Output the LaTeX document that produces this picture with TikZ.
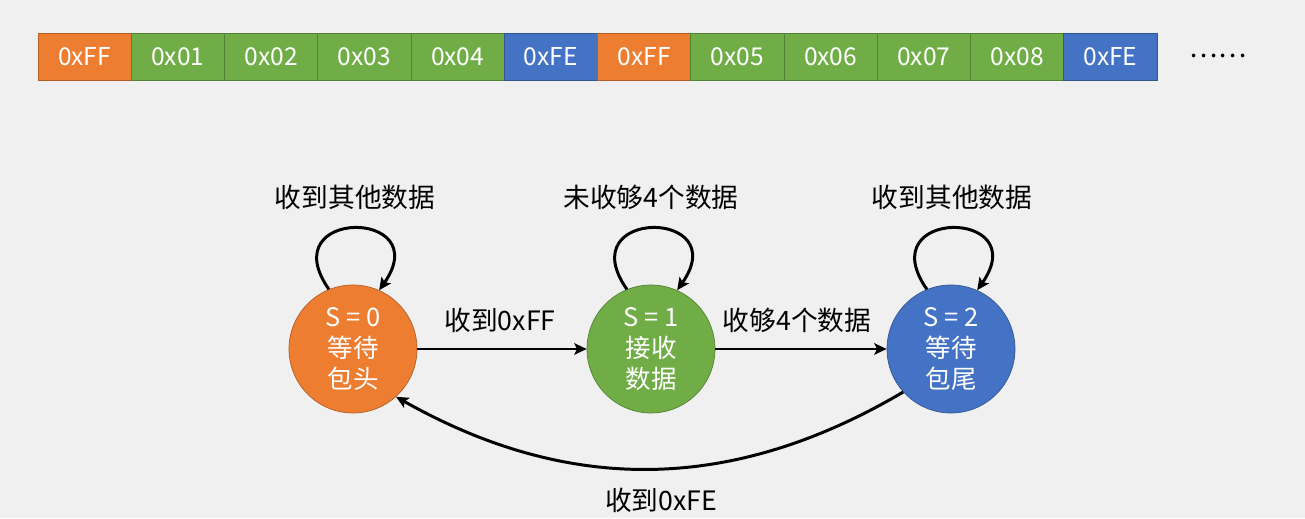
\documentclass[tikz,border=0pt]{standalone}
\usepackage{fontspec}
\setmainfont{Noto Sans CJK SC}
\usetikzlibrary{arrows.meta}
\definecolor{bgc}{HTML}{F0F0F0}
\definecolor{por}{HTML}{ED7D31}
\definecolor{pgr}{HTML}{70AD47}
\definecolor{pbl}{HTML}{4472C4}

\begin{document}
\begin{tikzpicture}[x=0.02cm, y=0.02cm, every node/.style={font=\fontsize{15.2}{17}\selectfont}, cell/.style={draw, minimum width=1.865cm, minimum height=0.94cm, inner sep=0pt, text=white, font=\fontsize{14}{16}\selectfont}, st/.style={draw, circle, minimum size=2.56cm, inner sep=0pt, text=white, align=center, font=\fontsize{14.5}{17.5}\selectfont}, tr/.style={-{Stealth[length=7pt, width=6.5pt, inset=1.5pt]}, line width=1.7pt}]
	\fill[bgc] (0,0) rectangle (1305,-518);
	\foreach \i/\t/\c in {0/0xFF/por, 1/0x01/pgr, 2/0x02/pgr, 3/0x03/pgr, 4/0x04/pgr, 5/0xFE/pbl, 6/0xFF/por, 7/0x05/pgr, 8/0x06/pgr, 9/0x07/pgr, 10/0x08/pgr, 11/0xFE/pbl} {\node[cell, fill=\c, draw=\c!75!black] (c\i) at ({84.6+93.25*\i},-56.5) {\t};}
	\node (more) at (1218,-56) {……};
	\node[st, fill=por, draw=por!75!black] (s0) at (353,-349) {S = 0\\等待\\包头};
	\node[st, fill=pgr, draw=pgr!75!black] (s1) at (651,-349) {S = 1\\接收\\数据};
	\node[st, fill=pbl, draw=pbl!75!black] (s2) at (951,-349) {S = 2\\等待\\包尾};
	\foreach \s in {s0, s1, s2} {\draw[tr] (\s.112) .. controls +(125:100) and +(55:100) .. (\s.66);}
	\node (l0) at (355,-197) {收到其他数据};
	\node (l1) at (651,-197) {未收够4个数据};
	\node (l2) at (952,-197) {收到其他数据};
	\draw[tr] (s0) -- (s1);
	\draw[tr] (s1) -- (s2);
	\node (t01) at (500,-320) {收到0xFF};
	\node (t12) at (797,-320) {收够4个数据};
	\draw[tr] (s2.222) to[bend left=30] (s0.312);
	\node (t20) at (661,-500) {收到0xFE};
\end{tikzpicture}
\end{document}
